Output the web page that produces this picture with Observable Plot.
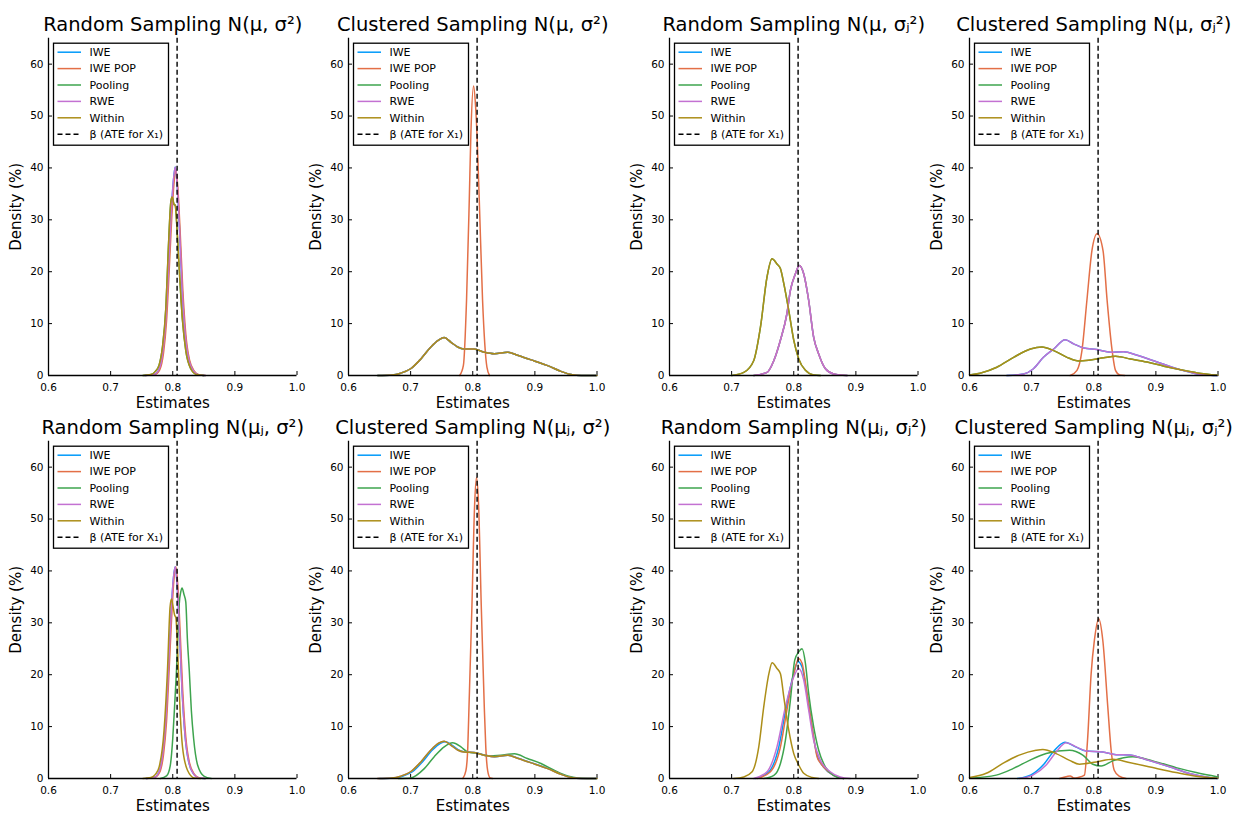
<!DOCTYPE html>
<html><head><meta charset="utf-8">
<script src="https://cdn.jsdelivr.net/npm/d3@7"></script>
<script src="https://cdn.jsdelivr.net/npm/@observablehq/plot@0.6"></script>
<style>
body{margin:0;background:#fff;font-family:"DejaVu Sans",sans-serif;}
#root{position:relative;width:1233px;height:814px;overflow:hidden;background:#fff;}
#root svg{position:absolute;overflow:visible;}
</style></head><body><div id="root"></div>
<script>
// ---------- labels & settings ----------
const xTickValues = [0.6, 0.7, 0.8, 0.9, 1.0];
const yTickValues = [0, 10, 20, 30, 40, 50, 60];
const seriesNames = ["IWE", "IWE POP", "Pooling", "RWE", "Within"];
const seriesColors = ["#009AFA", "#E36F47", "#3EA44E", "#C371D2", "#AC8E18"];
const betaLabel = "β (ATE for X₁)";
const betaValue = 0.807;
const panelTitles = [
  "Random Sampling N(μ, σ²)", "Clustered Sampling N(μ, σ²)",
  "Random Sampling N(μ, σⱼ²)", "Clustered Sampling N(μ, σⱼ²)",
  "Random Sampling N(μⱼ, σ²)", "Clustered Sampling N(μⱼ, σ²)",
  "Random Sampling N(μⱼ, σⱼ²)", "Clustered Sampling N(μⱼ, σⱼ²)"
];

// ---------- panel 1: Random N(mu, sigma^2) ----------
const p1_iwe_x = [0.755,0.770,0.778,0.784,0.789,0.793,0.797,0.801,0.804,0.807,0.811,0.815,0.820,0.826,0.834,0.842,0.852];
const p1_iwe_y = [0,0.2,1.2,4.5,11,20,30,37.5,40.2,37,28,17,8,3,0.8,0.1,0];
const p1_pop_x = [0.756,0.771,0.779,0.785,0.790,0.794,0.798,0.802,0.805,0.808,0.812,0.816,0.821,0.827,0.835,0.843,0.853];
const p1_pop_y = [0,0.2,1.1,4.2,10.5,19.5,29.5,37,39.6,36.5,27.5,17,8,3,0.8,0.1,0];
const p1_within_x = [0.752,0.765,0.772,0.778,0.7835,0.789,0.793,0.797,0.799,0.802,0.804,0.807,0.810,0.8157,0.821,0.829,0.838,0.850];
const p1_within_y = [0,0.2,0.8,2.0,5.5,13.2,24.7,33.5,34.4,33.0,32.8,28,21.5,10.6,4.8,1.3,0.2,0];

// ---------- panel 2: Clustered N(mu, sigma^2) ----------
const p2_broad_x = [0.647,0.670,0.684,0.700,0.7165,0.7326,0.745,0.754,0.765,0.7756,0.786,0.802,0.8185,0.8346,0.856,0.872,0.899,0.9205,0.942,0.958,0.975,1.0];
const p2_broad_y = [0,0.1,0.45,1.3,3.2,5.5,6.8,7.3,6.4,5.5,5.1,5.1,4.5,4.2,4.5,3.9,2.8,1.9,0.8,0.2,0.02,0];
const p2_pop_x = [0.779,0.785,0.790,0.7944,0.797,0.8013,0.8045,0.807,0.8105,0.8158,0.8228,0.827];
const p2_pop_y = [0,2,14.5,33.8,46.6,55.8,52,46,33.8,14.5,1.6,0];

// ---------- panel 3: Random N(mu, sigma_j^2) ----------
const p3_within_x = [0.700,0.7196,0.7357,0.7464,0.757,0.765,0.773,0.7785,0.784,0.792,0.800,0.808,0.8188,0.832,0.843];
const p3_within_y = [0,0.6,2.9,9.3,19,22.5,21.5,20.6,17.7,12.5,6.8,3.2,1.0,0.1,0];
const p3_other_x = [0.7357,0.757,0.768,0.7785,0.789,0.7946,0.8027,0.809,0.816,0.824,0.832,0.840,0.851,0.8644,0.886];
const p3_other_y = [0,0.6,2.9,6.8,11.9,16.4,19.6,21.2,19.6,14.5,7.4,4.2,1.3,0.3,0];

// ---------- panel 4: Clustered N(mu, sigma_j^2) ----------
const p4_within_x = [0.6,0.617,0.644,0.671,0.698,0.7167,0.7355,0.757,0.7758,0.7946,0.816,0.835,0.859,0.886,0.913,0.940,0.9667,1.0];
const p4_within_y = [0.1,0.45,1.6,3.5,5.1,5.5,4.8,3.5,2.8,3.0,3.4,3.7,3.2,2.6,1.8,1.1,0.5,0.05];
const p4_rwe_x = [0.660,0.687,0.703,0.719,0.7355,0.754,0.7677,0.784,0.805,0.827,0.848,0.870,0.902,0.934,0.9667,0.988,1.0];
const p4_rwe_y = [0,0.3,1.3,3.5,5.1,6.9,6.1,5.3,5.0,4.5,4.6,3.9,2.6,1.3,0.3,0.05,0];
const p4_pop_x = [0.762,0.773,0.781,0.789,0.797,0.8055,0.815,0.8215,0.8296,0.835,0.842,0.85];
const p4_pop_y = [0,1.0,4.8,14.5,24,27.3,24,14.5,4.8,1.0,0.1,0];

// ---------- panel 5: Random N(mu_j, sigma^2) ----------
const p5_iwe_x = [0.757,0.770,0.778,0.784,0.789,0.793,0.797,0.801,0.804,0.807,0.811,0.815,0.820,0.826,0.834,0.842,0.852];
const p5_iwe_y = [0,0.2,1.3,4.8,11.5,21,31,38.5,40.8,37.5,28,17,8,3,0.8,0.1,0];
const p5_pop_x = [0.758,0.771,0.779,0.785,0.790,0.794,0.798,0.802,0.805,0.808,0.812,0.816,0.821,0.827,0.835,0.843,0.853];
const p5_pop_y = [0,0.2,1.2,4.5,11,20.5,30.5,38.5,40.8,37.5,28,17,8,3,0.8,0.1,0];
const p5_pool_x = [0.780,0.790,0.796,0.800,0.803,0.806,0.8085,0.8105,0.813,0.815,0.818,0.821,0.8235,0.8266,0.830,0.8336,0.840,0.8507,0.862];
const p5_pool_y = [0,0.5,2.5,7.7,14,20.8,28,33.7,36,36.7,35.5,34,27,20.8,13,7.7,2.6,0.4,0];
const p5_within_x = [0.752,0.765,0.772,0.778,0.786,0.7915,0.7957,0.798,0.800,0.803,0.805,0.8076,0.812,0.8157,0.8237,0.835,0.845];
const p5_within_y = [0,0.2,0.8,2.2,9.3,20.9,33.1,34.6,33.5,31.5,31,25.4,12.5,6.1,1.6,0.1,0];

// ---------- panel 6: Clustered N(mu_j, sigma^2) ----------
const p6_broad_x = [0.647,0.670,0.684,0.700,0.7165,0.7326,0.745,0.754,0.765,0.7756,0.786,0.802,0.8185,0.8346,0.856,0.872,0.899,0.9205,0.942,0.958,0.975,1.0];
const p6_broad_y = [0,0.1,0.45,1.3,3.2,5.5,6.8,7.2,6.4,5.5,5.1,5.0,4.5,4.2,4.5,3.9,2.8,1.9,0.8,0.2,0.02,0];
const p6_iwe_x = [0.650,0.673,0.687,0.703,0.719,0.735,0.748,0.757,0.767,0.777,0.787,0.803,0.8195,0.8356,0.857,0.873,0.900,0.9215,0.943,0.959,0.976,1.0];
const p6_iwe_y = [0,0.1,0.45,1.3,3.2,5.5,6.8,7.1,6.4,5.5,5.1,5.0,4.5,4.2,4.5,3.9,2.8,1.9,0.8,0.2,0.02,0];
const p6_pool_x = [0.680,0.700,0.722,0.738,0.754,0.7675,0.781,0.7917,0.8078,0.824,0.845,0.867,0.888,0.9098,0.931,0.9527,0.969,0.985,1.0];
const p6_pool_y = [0,0.1,1.9,4.2,6.1,6.9,6.1,5.1,4.8,4.4,4.5,4.75,3.85,2.9,1.6,0.5,0.1,0.02,0];
const p6_pop_x = [0.784,0.789,0.792,0.794,0.7987,0.803,0.806,0.8094,0.8137,0.8185,0.821,0.824,0.828,0.832];
const p6_pop_y = [0,1.5,6,14,33.3,52.7,58,52.7,33.3,14,6,1.5,0.1,0];

// ---------- panel 7: Random N(mu_j, sigma_j^2) ----------
const p7_iwe_x = [0.738,0.760,0.776,0.787,0.799,0.807,0.8134,0.8214,0.8295,0.8375,0.848,0.864,0.880];
const p7_iwe_y = [0,1.3,6.1,13.2,19.8,22.5,21.5,16.2,9.8,4.5,2.2,0.6,0];
const p7_pop_x = [0.741,0.7625,0.7786,0.789,0.800,0.808,0.8134,0.8214,0.8295,0.8375,0.843,0.848,0.864,0.880];
const p7_pop_y = [0,1.3,6.1,13.2,20.2,23.1,22.2,16.4,10.0,4.2,3.0,2.2,0.6,0];
const p7_pool_x = [0.7517,0.768,0.7786,0.7866,0.7946,0.8016,0.808,0.8134,0.8188,0.824,0.832,0.840,0.851,0.864,0.880];
const p7_pool_y = [0,0.6,2.9,7.4,15.1,22.8,24.4,25.0,22.2,16.4,10.0,5.5,2.2,0.6,0];
const p7_rwe_x = [0.7356,0.757,0.773,0.7866,0.800,0.808,0.816,0.824,0.832,0.843,0.8587,0.8748,0.891];
const p7_rwe_y = [0,1.3,6.1,13.8,19.6,21.2,19,13.2,7.4,3.5,1.3,0.3,0];
const p7_within_x = [0.7035,0.7195,0.733,0.7437,0.7517,0.760,0.7652,0.773,0.7786,0.784,0.792,0.800,0.808,0.816,0.8295,0.84];
const p7_within_y = [0,0.3,1.3,6.1,13.8,20.2,22.3,21.2,20.2,15.7,9.3,4.8,2.6,1.0,0.2,0];

// ---------- panel 8: Clustered N(mu_j, sigma_j^2) ----------
const p8_iwe_x = [0.677,0.699,0.720,0.7365,0.7536,0.7707,0.7878,0.8146,0.836,0.8575,0.884,0.922,0.954,0.986,1.0];
const p8_iwe_y = [0,0.7,2.8,5.4,7.0,6.1,5.3,5.1,4.6,4.55,3.66,2.25,0.96,0.2,0];
const p8_pop_x = [0.745,0.757,0.762,0.768,0.775,0.785,0.790,0.7958,0.801,0.808,0.8146,0.8226,0.828,0.833,0.841,0.852];
const p8_pop_y = [0,0.4,0.5,0.1,0.2,0.65,7.4,20.2,26.6,30.8,26.6,13.8,5.45,1.6,0.45,0];
const p8_pool_x = [0.6,0.643,0.670,0.6966,0.7234,0.761,0.7824,0.7985,0.812,0.8307,0.863,0.895,0.9326,0.9648,1.0];
const p8_pool_y = [0.05,0.65,1.9,3.5,4.8,5.45,4.5,2.75,2.4,3.4,4.2,3.4,2.1,1.15,0.3];
const p8_rwe_x = [0.680,0.702,0.7234,0.7395,0.7556,0.7717,0.7878,0.8146,0.836,0.8575,0.884,0.922,0.954,0.986,1.0];
const p8_rwe_y = [0,0.65,2.6,5.1,6.9,6.1,5.3,5.1,4.6,4.55,3.66,2.25,0.96,0.2,0];
const p8_within_x = [0.6,0.627,0.6536,0.680,0.707,0.718,0.7395,0.761,0.777,0.804,0.8307,0.857,0.895,0.9326,0.9648,1.0];
const p8_within_y = [0.2,1.0,2.9,4.5,5.45,5.6,4.8,3.5,2.75,3.2,3.7,3.1,2.1,1.15,0.45,0.06];

// series per panel, in order IWE, IWE POP, Pooling, RWE, Within
const panelSeries = [
  [[p1_iwe_x,p1_iwe_y],[p1_pop_x,p1_pop_y],[p1_within_x,p1_within_y],[p1_iwe_x,p1_iwe_y],[p1_within_x,p1_within_y]],
  [[p2_broad_x,p2_broad_y],[p2_pop_x,p2_pop_y],[p2_broad_x,p2_broad_y],[p2_broad_x,p2_broad_y],[p2_broad_x,p2_broad_y]],
  [[p3_other_x,p3_other_y],[p3_other_x,p3_other_y],[p3_within_x,p3_within_y],[p3_other_x,p3_other_y],[p3_within_x,p3_within_y]],
  [[p4_rwe_x,p4_rwe_y],[p4_pop_x,p4_pop_y],[p4_within_x,p4_within_y],[p4_rwe_x,p4_rwe_y],[p4_within_x,p4_within_y]],
  [[p5_iwe_x,p5_iwe_y],[p5_pop_x,p5_pop_y],[p5_pool_x,p5_pool_y],[p5_iwe_x,p5_iwe_y],[p5_within_x,p5_within_y]],
  [[p6_iwe_x,p6_iwe_y],[p6_pop_x,p6_pop_y],[p6_pool_x,p6_pool_y],[p6_broad_x,p6_broad_y],[p6_broad_x,p6_broad_y]],
  [[p7_iwe_x,p7_iwe_y],[p7_pop_x,p7_pop_y],[p7_pool_x,p7_pool_y],[p7_rwe_x,p7_rwe_y],[p7_within_x,p7_within_y]],
  [[p8_iwe_x,p8_iwe_y],[p8_pop_x,p8_pop_y],[p8_pool_x,p8_pool_y],[p8_rwe_x,p8_rwe_y],[p8_within_x,p8_within_y]]
];

// ---------- layout ----------
const colLefts = [0, 300, 621, 921];
const rowTops = [0, 403];
const W = 310, H = 410, mL = 48, mR = 13.5, mT = 37.7, mB = 35;
const plotW = W - mL - mR, plotH = H - mT - mB;
const FONT = "DejaVu Sans";

const root = document.getElementById("root");

panelTitles.forEach((title, p) => {
  const marks = [
    Plot.axisX({ticks: xTickValues, tickSize: 0, tickPadding: 8, label: null, tickFormat: d3.format(".1f"), fontSize: 10.5, fill: "black"}),
    Plot.axisY({ticks: yTickValues, tickSize: 0, tickPadding: 5, label: null, fontSize: 10.5, fill: "black"}),
    Plot.tickX(xTickValues, {x: d => d, insetTop: plotH - 4, stroke: "black", strokeWidth: 1}),
    Plot.tickY(yTickValues, {y: d => d, insetRight: plotW - 4, stroke: "black", strokeWidth: 1}),
  ];
  panelSeries[p].forEach(([xs, ys], s) => {
    const rows = xs.map((x, i) => ({x, y: ys[i]}));
    marks.push(Plot.line(rows, {x: "x", y: "y", stroke: seriesColors[s], strokeWidth: 1.5, curve: "monotone-x"}));
  });
  marks.push(
    Plot.ruleX([0.6], {stroke: "black", strokeWidth: 1.3}),
    Plot.ruleY([0], {stroke: "black", strokeWidth: 1.3}),
    Plot.ruleX([betaValue], {stroke: "black", strokeWidth: 1.4, strokeDasharray: "5,3"}),
    Plot.text([title], {text: d => d, frameAnchor: "top", dy: -13.5, lineAnchor: "middle", textAnchor: "middle", fontSize: 19.5, fill: "black"}),
    Plot.text(["Density (%)"], {text: d => d, frameAnchor: "left", dx: -32.5, rotate: -90, lineAnchor: "middle", textAnchor: "middle", fontSize: 15, fill: "black"}),
    Plot.text(["Estimates"], {text: d => d, frameAnchor: "bottom", dy: 27.5, lineAnchor: "middle", textAnchor: "middle", fontSize: 15, fill: "black"})
  );
  const svg = Plot.plot({
    width: W, height: H,
    marginLeft: mL, marginRight: mR, marginTop: mT, marginBottom: mB,
    style: {background: "transparent", overflow: "visible", fontFamily: FONT, color: "black"},
    x: {domain: [0.6, 1.0]},
    y: {domain: [0, 65]},
    marks
  });
  svg.style.left = colLefts[p % 4] + "px";
  svg.style.top = rowTops[Math.floor(p / 4)] + "px";

  // legend
  const g = d3.select(svg).append("g")
    .attr("transform", `translate(${mL + 5.5},${mT + 5.5})`)
    .attr("font-family", FONT).attr("font-size", 11).attr("text-anchor", "start");
  g.append("rect").attr("width", 115).attr("height", 102)
    .attr("fill", "white").attr("stroke", "black").attr("stroke-width", 1.3);
  const entries = seriesNames.map((n, i) => ({name: n, color: seriesColors[i], dash: null}))
    .concat([{name: betaLabel, color: "black", dash: "5,3"}]);
  entries.forEach((e, i) => {
    const yy = 9 + i * 16.4;
    const ln = g.append("line").attr("x1", 4).attr("x2", 27.5).attr("y1", yy).attr("y2", yy)
      .attr("stroke", e.color).attr("stroke-width", 1.5);
    if (e.dash) ln.attr("stroke-dasharray", e.dash);
    g.append("text").attr("x", 36).attr("y", yy).attr("dy", "0.35em")
      .attr("text-anchor", "start").attr("fill", "black").text(e.name);
  });
  root.appendChild(svg);
});
</script>
</body></html>
